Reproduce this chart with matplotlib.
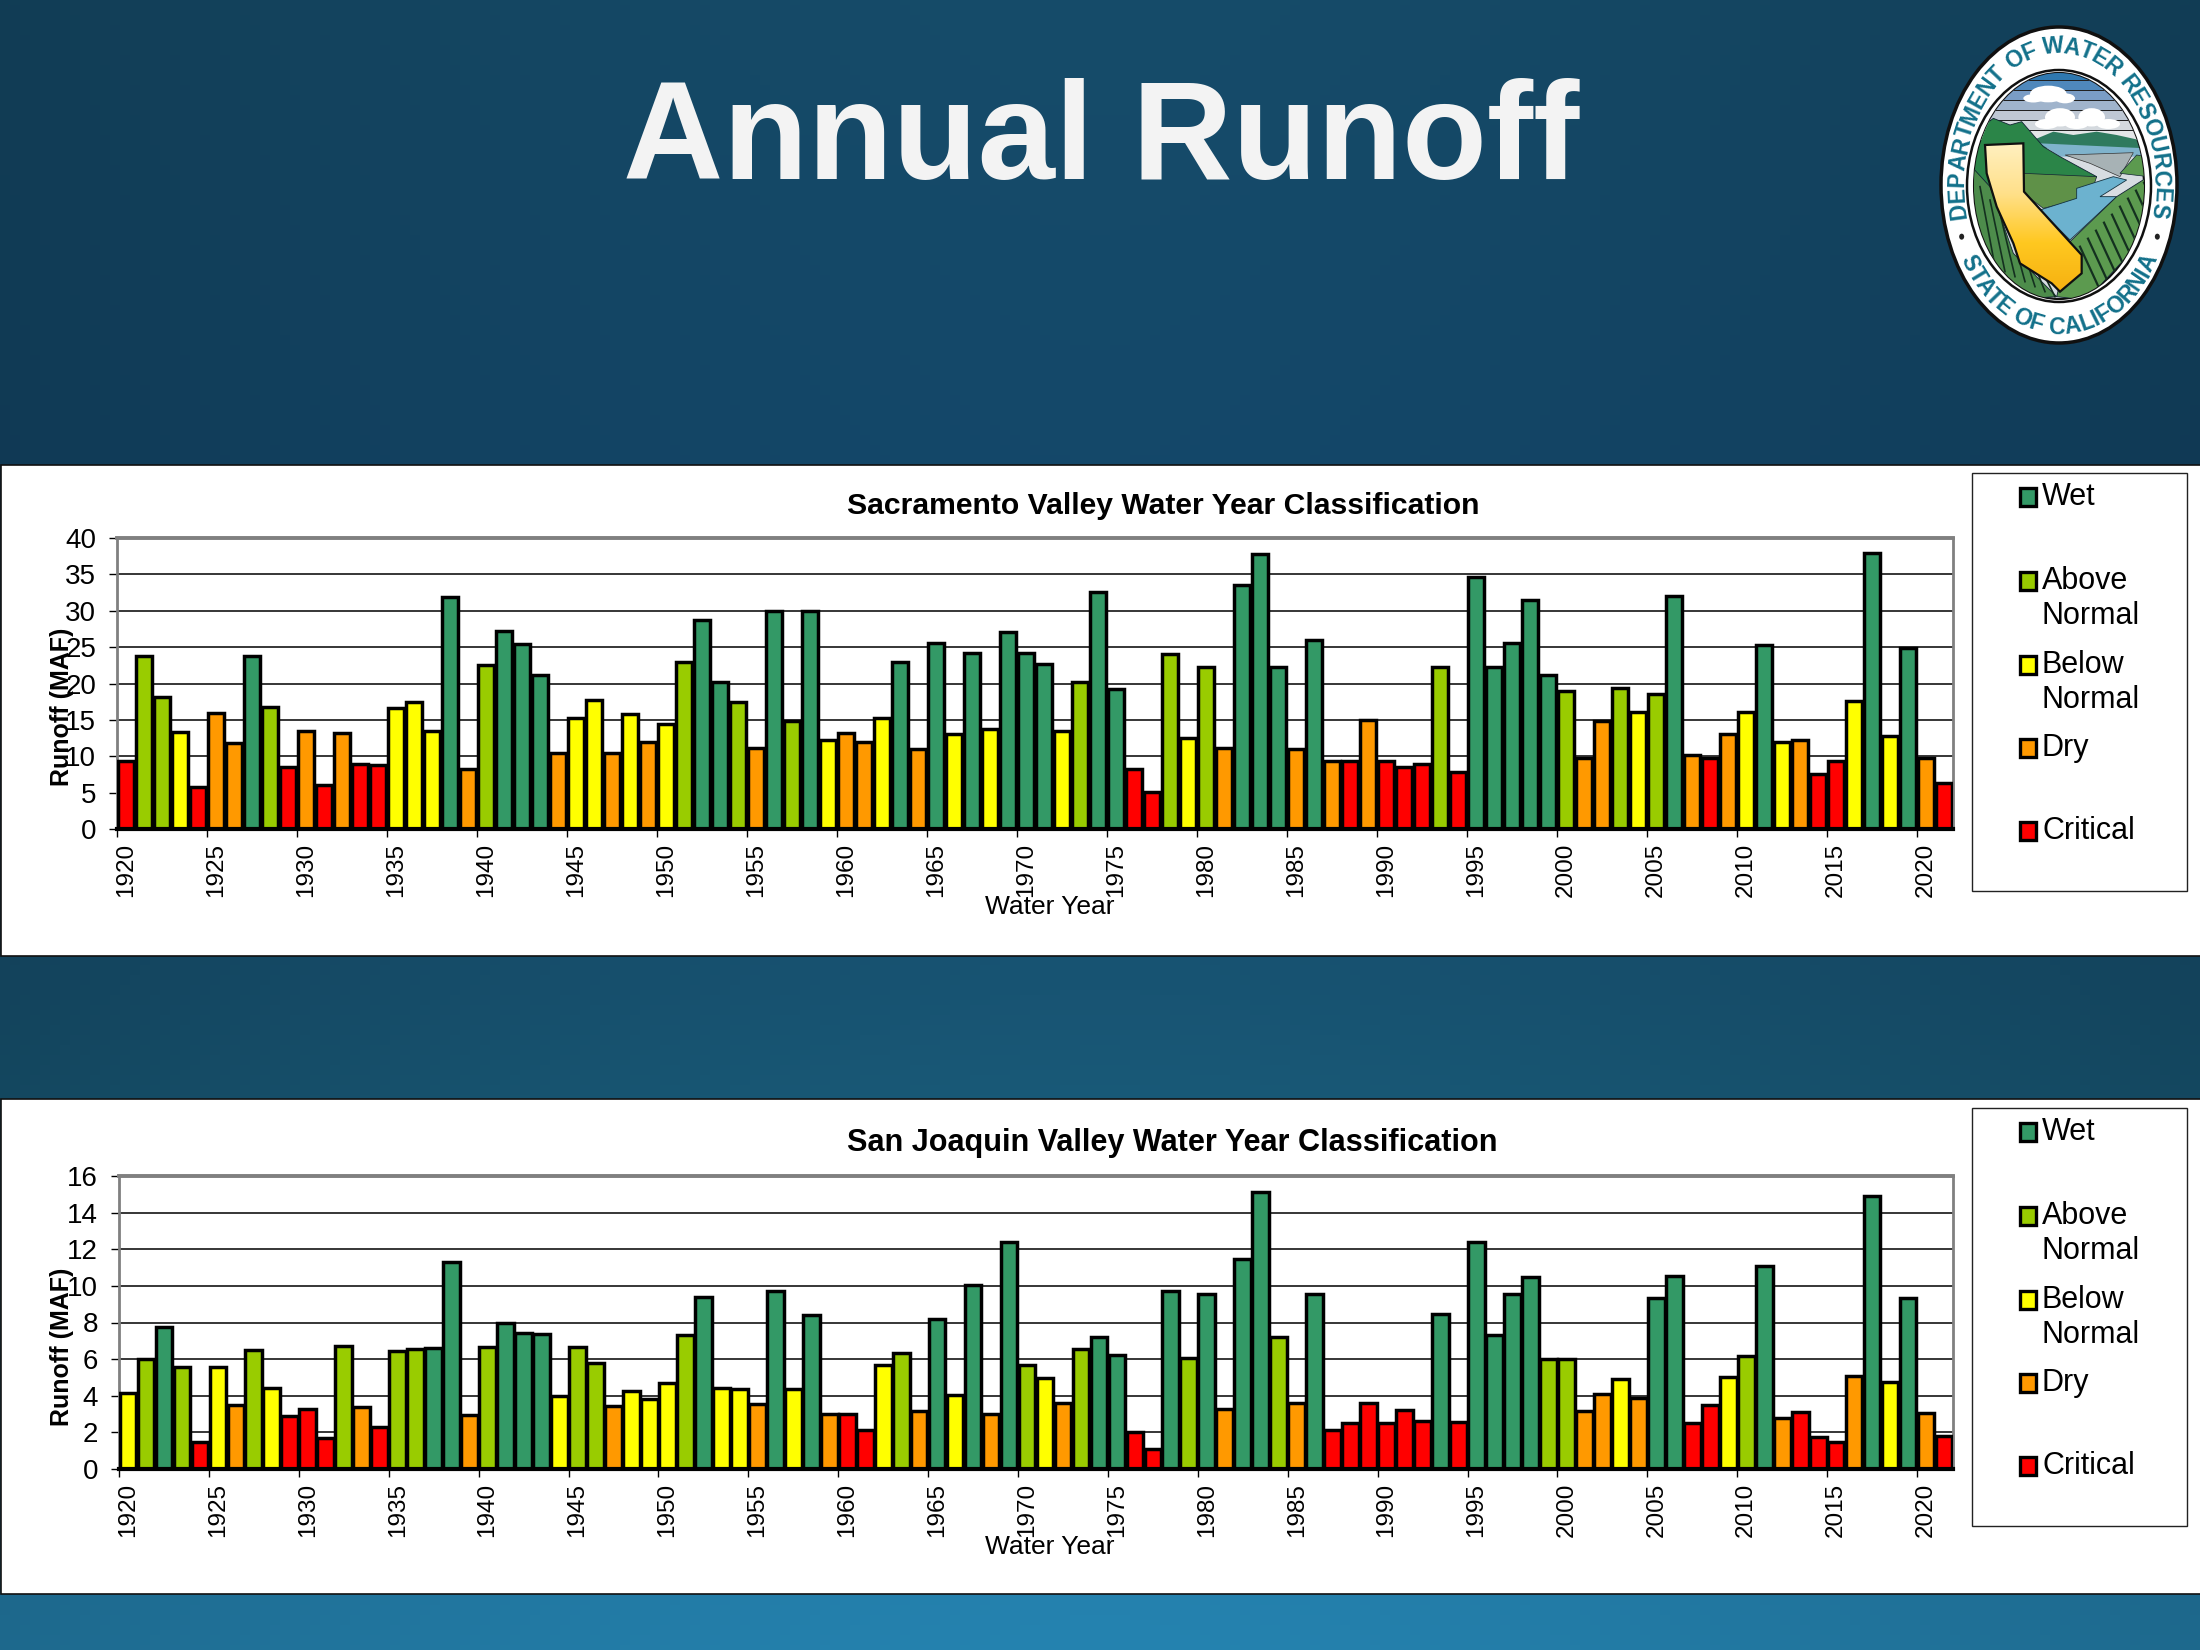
import matplotlib
matplotlib.use('Agg')
import matplotlib.pyplot as plt
import numpy as np
from matplotlib.colors import to_rgb, LinearSegmentedColormap
from matplotlib.patches import Ellipse, Polygon, Rectangle

plt.rcParams['font.family'] = ['Liberation Sans', 'DejaVu Sans']

years = list(range(1920, 2022))

sac_runoff = [9.3, 23.8, 18.1, 13.3, 5.8, 16.0, 11.8, 23.8, 16.8, 8.5,
              13.5, 6.1, 13.2, 9.0, 8.8, 16.7, 17.4, 13.5, 31.9, 8.2,
              22.5, 27.2, 25.4, 21.2, 10.5, 15.2, 17.7, 10.5, 15.8, 12.0,
              14.5, 23.0, 28.7, 20.2, 17.5, 11.1, 29.9, 14.9, 29.9, 12.2,
              13.2, 12.0, 15.2, 23.0, 11.0, 25.6, 13.0, 24.2, 13.7, 27.1,
              24.2, 22.7, 13.5, 20.2, 32.6, 19.3, 8.3, 5.1, 24.0, 12.5,
              22.3, 11.2, 33.5, 37.8, 22.3, 11.05, 26.0, 9.3, 9.3, 15.0,
              9.3, 8.5, 9.0, 22.2, 7.9, 34.6, 22.3, 25.5, 31.5, 21.2,
              19.0, 9.8, 14.8, 19.4, 16.1, 18.5, 32.0, 10.2, 9.8, 13.0,
              16.1, 25.3, 11.9, 12.3, 7.5, 9.3, 17.6, 37.9, 12.8, 24.9,
              9.8, 6.3]

# W wet, A above normal, B below normal, D dry, C critical
sac_class = ("CAABCDDWAC" "DCDCCBBBWD"
             "AWWWDBBDBD" "BAWWADWAWB"
             "DDBWDWBWBW" "WWBAWWCCAB"
             "ADWWWDWDCD" "CCCACWWWWW"
             "ADDABAWDCD" "BWBDCCBWBW"
             "DC")

sj_runoff = [4.13, 6.0, 7.74, 5.55, 1.5, 5.55, 3.5, 6.5, 4.4, 2.9,
             3.3, 1.7, 6.7, 3.37, 2.3, 6.45, 6.55, 6.6, 11.3, 2.95,
             6.65, 7.95, 7.4, 7.35, 4.0, 6.65, 5.77, 3.44, 4.26, 3.82,
             4.68, 7.3, 9.38, 4.43, 4.35, 3.53, 9.7, 4.35, 8.4, 3.0,
             3.0, 2.13, 5.68, 6.32, 3.17, 8.18, 4.04, 10.05, 3.0, 12.37,
             5.68, 4.95, 3.59, 6.54, 7.2, 6.23, 2.0, 1.09, 9.7, 6.05,
             9.56, 3.26, 11.46, 15.1, 7.2, 3.62, 9.56, 2.13, 2.5, 3.59,
             2.5, 3.22, 2.62, 8.47, 2.55, 12.42, 7.32, 9.56, 10.47, 5.99,
             5.99, 3.19, 4.1, 4.9, 3.9, 9.33, 10.55, 2.5, 3.5, 5.0,
             6.17, 11.1, 2.77, 3.1, 1.77, 1.46, 5.1, 14.92, 4.77, 9.33,
             3.04, 1.8]

sj_class = ("BAWACBDABC" "CCADCAAWWD"
            "AWWWBAADBB" "BAWBBDWBWD"
            "CCBADWBWDW" "ABDAWWCCWA"
            "WDWWADWCCC" "CCCWCWWWWA"
            "ADDBDWWCCB" "AWDCCCDWBW"
            "DC")

class_colors = {'W': '#339966', 'A': '#99CC00', 'B': '#FFFF00', 'D': '#FF9900', 'C': '#FF0000'}
legend_labels = [('W', 'Wet'), ('A', 'Above\nNormal'), ('B', 'Below\nNormal'), ('D', 'Dry'), ('C', 'Critical')]
legend_y = [499, 583, 667, 750, 833]

W, H = 2200, 1650
fig = plt.figure(figsize=(22, 16.5), dpi=100)

# page background: vertical blend, darker towards the left and right edges
page = fig.add_axes([0, 0, 1, 1], zorder=0)
stops = np.array([0, 0.28, 0.6, 0.67, 0.96, 1.0])
stop_cols = np.array([to_rgb(c) for c in ['#164c6a', '#14486a', '#185473', '#195a78', '#2481ae', '#2583b0']])
yy = np.linspace(0, 1, 330)
xx = np.linspace(-1, 1, 220)
vert = np.stack([np.interp(yy, stops, stop_cols[:, i]) for i in range(3)], axis=1)
shade = 1 - 0.2 * np.abs(xx) ** 1.6
page.imshow(vert[:, None, :] * shade[None, :, None], aspect='auto', extent=(0, W, H, 0))
page.set_xlim(0, W)
page.set_ylim(H, 0)
page.axis('off')

page.add_patch(Rectangle((0.5, 465), W, 491, fc='white', ec='#111111', lw=1.2))
page.add_patch(Rectangle((0.5, 1099), W, 495, fc='white', ec='#111111', lw=1.2))

page.text(1101, 179, 'Annual Runoff', color='#f3f3f3', fontsize=100, fontweight='bold',
          ha='center', va='baseline')


def draw_legend(dy):
    page.add_patch(Rectangle((1972, 473 + dy), 215, 418, fc='white', ec='#222222', lw=1))
    for (key, label), y in zip(legend_labels, legend_y):
        page.add_patch(Rectangle((2020, y - 2 + dy - 9), 16, 18, fc=class_colors[key], ec='black', lw=2.4))
        for i, line in enumerate(label.split('\n')):
            page.text(2042, y - 2 + dy + i * 35, line, fontsize=22, va='center', ha='left', color='black')


draw_legend(0)
draw_legend(635)


def draw_chart(left, top, bottom, values, classes, ymax, ystep, title, title_x, title_y, title_size):
    ax = fig.add_axes([left / W, 1 - bottom / H, (1953 - left) / W, (bottom - top) / H], zorder=2)
    colors = [class_colors[c] for c in classes]
    ax.bar(years, values, width=0.93, color=colors, edgecolor='black', linewidth=2.5, zorder=3)
    ax.set_xlim(years[0] - 0.5, years[-1] + 0.5)
    ax.set_ylim(0, ymax)
    ax.set_yticks(np.arange(0, ymax + 1, ystep))
    ax.tick_params(axis='y', labelsize=20, length=6, width=1, pad=9)
    label_years = [y for y in years if y % 5 == 0]
    ax.set_xticks(label_years)
    ax.set_xticklabels([str(y) for y in label_years], rotation=90, fontsize=17.5)
    ax.tick_params(axis='x', which='major', length=0, pad=10)
    ax.set_xticks([y - 0.5 for y in label_years], minor=True)
    ax.tick_params(axis='x', which='minor', length=6, width=1)
    ax.grid(axis='y', color='black', lw=1.1, zorder=1)
    ax.set_axisbelow(True)
    for side in ['top', 'left', 'right']:
        ax.spines[side].set_color('#808080')
    ax.spines['top'].set_linewidth(2.8)
    ax.spines['left'].set_linewidth(2)
    ax.spines['right'].set_linewidth(2)
    ax.spines['bottom'].set_linewidth(3)
    ax.spines['bottom'].set_zorder(5)
    ax.set_title(title, fontsize=title_size, fontweight='bold', x=(title_x - left) / (1953 - left),
                 y=(bottom - title_y - 10) / (bottom - top), va='center')
    ax.set_xlabel('Water Year', fontsize=19)
    ax.xaxis.set_label_coords((1050 - left) / (1953 - left), -66 / (bottom - top))
    ax.set_ylabel('Runoff (MAF)', fontsize=18, fontweight='bold')
    ax.yaxis.set_label_coords((74 - left) / (1953 - left), 122 / (bottom - top))
    return ax


draw_chart(117, 538, 829, sac_runoff, sac_class, 40, 5,
           'Sacramento Valley Water Year Classification', 1163, 504, 21.7)
draw_chart(119, 1176, 1469, sj_runoff, sj_class, 16, 2,
           'San Joaquin Valley Water Year Classification', 1172, 1141, 22.1)


# --- department seal, scene outline read in zoomed pixels of the corner ---
def z(pts):
    return [(1900 + x / 3, y / 3) for x, y in pts]


cx, cy = 2059, 185
page.add_patch(Ellipse((cx, cy), 236, 316, fc='white', ec='#101010', lw=2.5, zorder=3))
page.add_patch(Ellipse((cx, cy + 1), 184, 232, fc='white', ec='#101010', lw=1.8, zorder=3))
scene = Ellipse((cx, cy + 1), 170, 226, fc='#d8dde2', ec='#101010', lw=1.5, zorder=4)
page.add_patch(scene)


def clipped(patch):
    page.add_patch(patch)
    patch.set_clip_path(scene)


def furrow(p0, p1, lw):
    line, = page.plot(*zip(*z([p0, p1])), color='#14301f', lw=lw, zorder=10)
    line.set_clip_path(scene)


# sky stripes
stripe_colors = ['#2f78b0', '#4f88bc', '#7a9dc6', '#a0b4cc', '#bfc8d4', '#d4d9de', '#e4e6e8']
for i, col in enumerate(stripe_colors):
    clipped(Rectangle((1900, 70 + i * 10), 300, 10, fc=col, ec='none', zorder=5))
    clipped(Rectangle((1900, 70 + i * 10), 300, 1.4, fc='#222222', ec='none', zorder=5))
for x0, y0, w, h in [(445, 282, 110, 50), (400, 295, 60, 25), (495, 295, 60, 30), (480, 352, 90, 55),
                     (440, 372, 70, 30), (575, 352, 80, 55), (530, 372, 70, 30), (625, 372, 70, 30)]:
    clipped(Ellipse(z([(x0, y0)])[0], w / 3, h / 3, fc='white', ec='none', zorder=6))

clipped(Polygon(z([(400, 420), (460, 395), (520, 405), (590, 395), (650, 405), (740, 425), (740, 445), (430, 445)]),
                fc='#2f7a5e', ec='none', zorder=6))
clipped(Polygon(z([(420, 430), (740, 445), (740, 470), (480, 470)]), fc='#7fb3cc', ec='none', zorder=7))
clipped(Polygon(z([(495, 465), (700, 458), (660, 530), (570, 490)]), fc='#a7b2b5', ec='#333333', lw=0.5, zorder=8))
clipped(Polygon(z([(660, 520), (710, 465), (745, 470), (745, 530)]), fc='#5c9a4f', ec='#123', lw=0.5, zorder=8))
clipped(Polygon(z([(220, 400), (280, 355), (330, 375), (365, 365), (430, 440), (480, 470), (590, 530), (560, 560), (380, 590), (220, 580)]),
                fc='#2b8548', ec='#123', lw=0.6, zorder=8))
clipped(Polygon(z([(370, 520), (590, 530), (570, 590), (430, 625), (370, 580)]), fc='#5f9148', ec='#123', lw=0.5, zorder=9))
clipped(Polygon(z([(420, 630), (530, 595), (530, 565), (640, 530), (680, 540), (600, 590), (650, 590), (510, 720)]),
                fc='#6cb2cf', ec='#14323f', lw=0.6, zorder=9))
clipped(Polygon(z([(510, 725), (650, 590), (745, 530), (745, 700), (560, 900), (470, 890)]), fc='#5c9a4f', ec='#123', lw=0.6, zorder=9))
clipped(Polygon(z([(215, 500), (270, 560), (340, 760), (470, 890), (300, 900), (205, 700)]), fc='#4d8c4b', ec='#123', lw=0.6, zorder=9))

# furrows on the fields
for k in range(9):
    x0, y0 = 540 + k * 24, 740 - k * 24
    furrow((x0, y0), (x0 + 60, y0 + 130), 1.6)
for k in range(7):
    x0 = 240 + k * 30
    furrow((x0, 560 + k * 40), (x0 + 45, 800 + k * 15), 1.2)

calif = Polygon(z([(255, 435), (370, 430), (372, 575), (545, 765), (545, 820), (480, 875), (455, 850),
                   (360, 790), (340, 730), (290, 620), (260, 520)]), fc='none', ec='#101010', lw=1.6, zorder=11)
page.add_patch(calif)
yellow = LinearSegmentedColormap.from_list('calif', ['#fff0c0', '#ffe08a', '#ffc820', '#f6b010'])
im = page.imshow(np.linspace(0, 1, 128).reshape(-1, 1), cmap=yellow, aspect='auto', zorder=10.5,
                 extent=(1900 + 250 / 3, 1900 + 550 / 3, 880 / 3, 430 / 3))
im.set_clip_path(calif)
page.set_xlim(0, W)
page.set_ylim(H, 0)

char_widths = {' ': 0.42, 'I': 0.42, 'M': 1.05, 'W': 1.2, 'F': 0.8, 'T': 0.8, 'L': 0.8, 'E': 0.85, 'O': 1.05, 'C': 1.0}


def arc_text(text, t_start, t_end, a, b, top_side, size):
    ts = np.radians(np.linspace(t_start, t_end, 721))
    seg = np.hypot(np.diff(a * np.sin(ts)), np.diff(b * np.cos(ts)))
    arc = np.concatenate([[0], np.cumsum(seg)])
    widths = np.array([char_widths.get(ch, 0.95) for ch in text])
    pos = (np.cumsum(widths) - widths / 2) / widths.sum() * arc[-1]
    for ch, p in zip(text, pos):
        t = np.interp(p, arc, ts)
        x, y = cx + a * np.sin(t), cy - b * np.cos(t)
        if top_side:
            rot = np.degrees(np.arctan2(-b * np.sin(t), a * np.cos(t)))
        else:
            rot = np.degrees(np.arctan2(b * np.sin(t), -a * np.cos(t)))
        page.text(x, y, ch, fontsize=size, fontweight='bold', color='#12708a', rotation=rot,
                  rotation_mode='anchor', ha='center', va='center_baseline', zorder=12)


arc_text('DEPARTMENT OF WATER RESOURCES', -104, 104, 104, 141, True, 16.5)
arc_text('STATE OF CALIFORNIA', 240, 120, 104, 140, False, 16.5)
for dot_x in (185, 772):
    page.add_patch(Ellipse(z([(dot_x, 710)])[0], 5, 6, fc='#222222', ec='none', zorder=12))

fig.savefig('out.png', dpi=100, facecolor='white')
